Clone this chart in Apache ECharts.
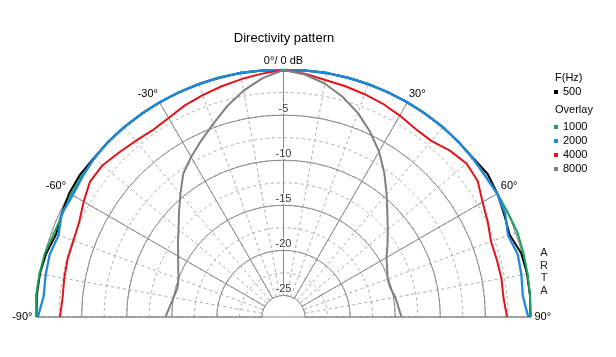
<!DOCTYPE html>
<html>
<head>
<meta charset="utf-8">
<script src="https://cdn.jsdelivr.net/npm/echarts@6/dist/echarts.min.js"></script>
<style>
html,body{margin:0;padding:0;background:#fff;}
#chart{width:616px;height:357px;}
</style>
</head>
<body>
<div id="chart"></div>
<script>
// Angles (degrees) at which each response is sampled
const angles = [-90,-85,-80,-75,-70,-65,-60,-55,-50,-45,-40,-35,-30,-25,-20,-15,-10,-5,0,5,10,15,20,25,30,35,40,45,50,55,60,65,70,75,80,85,90];
// Relative level (dB) per frequency
const f500  = [0,0.1,0.05,-0.15,-0.55,-0.25,0.05,0.15,0.05,0.1,0.1,0.1,0.1,0.1,0.1,0.1,0.1,0.05,0,0.05,0.1,0.1,0.1,0.1,0.1,0.1,0.1,0.05,0.05,0.25,0.0,-0.4,-0.7,-0.1,0.05,0.05,0];
const f1000 = [0,0.15,0.1,0,-0.3,-0.35,-0.2,-0.1,0.0,0.1,0.1,0.1,0.1,0.1,0.1,0.1,0.1,0.05,0,0.05,0.1,0.1,0.1,0.1,0.1,0.1,0.1,0.05,0,-0.05,0,0.05,0.2,0.15,0.1,0.05,0];
const f2000 = [-0.15,-0.7,-0.6,-0.55,-0.85,-0.25,-0.4,-0.2,0.0,0.1,0.1,0.1,0.1,0.1,0.1,0.1,0.1,0.05,0,0.05,0.1,0.1,0.1,0.1,0.1,0.1,0.1,0.05,0,-0.1,-0.05,-0.25,-0.9,-0.5,-0.6,-0.75,-0.25];
const f4000 = [-2.6,-2.8,-2.7,-2.6,-2.6,-2.4,-1.8,-1.2,-1.2,-1.6,-1.9,-2.1,-1.9,-1.5,-1.2,-0.9,-0.6,-0.3,0,-0.3,-0.7,-0.9,-1.1,-1.3,-1.6,-1.9,-1.9,-1.3,-0.9,-1.1,-1.9,-2.4,-2.9,-2.9,-2.85,-2.9,-2.6];
const f8000 = [-14.3,-14.7,-15.0,-15.2,-15.0,-14.5,-13.9,-13.1,-12.2,-11.0,-9.6,-8.0,-6.9,-5.8,-4.6,-3.2,-1.9,-0.8,0,-0.4,-1.1,-2.1,-3.3,-4.7,-6.2,-7.9,-9.6,-11.1,-12.3,-13.3,-14.2,-14.7,-15.1,-15.1,-14.8,-14.6,-14.3];
// Radial tick labels (dB)
const radialTicks = [-5,-10,-15,-20,-25];
const mainNames = ['500'];
const overlayNames = ['1000','2000','4000','8000'];

const FONT = 'Liberation Sans, Arial, sans-serif';
const center = [283.5, 317];
const R = [21.5, 247];
const PX_PER_DB = (R[1] - R[0]) / 25;
const HEADROOM = 0.6; // dB of room above 0 dB for the data polar
const Rdata = [R[0], R[1] + HEADROOM * PX_PER_DB];

function pairs(vals){ return vals.map((v,i)=>[v, angles[i]]); }

const seriesDefs = [
  {name:'500', vals:f500, color:'#000000', w:2},
  {name:'1000', vals:f1000, color:'#1ba35a', w:2},
  {name:'2000', vals:f2000, color:'#2186de', w:2.3},
  {name:'4000', vals:f4000, color:'#e0141a', w:2},
  {name:'8000', vals:f8000, color:'#808080', w:2}
];

const series = seriesDefs.map((s,i)=>({
  name:s.name, type:'line', coordinateSystem:'polar', polarIndex:3,
  data:pairs(s.vals), symbol:'none', clip:false, silent:true,
  lineStyle:{color:s.color, width:s.w}, itemStyle:{color:s.color}, z:5 + i
}));
series.push({
  type:'scatter', coordinateSystem:'polar', polarIndex:0, silent:true,
  data: radialTicks.map(v=>[v,0]), symbolSize:0, z:12,
  label:{show:true, position:'top', distance:1, formatter:p=>String(p.value[0]),
    color:'#000', fontSize:11, fontFamily:FONT, backgroundColor:'#fff', padding:[0,1,0,1]}
});

const titleStyle = {fontSize:11, fontWeight:'normal', color:'#000', fontFamily:FONT};
const hiddenAxis = {axisLine:{show:false}, axisTick:{show:false}, axisLabel:{show:false}, splitLine:{show:false}};
const chart = echarts.init(document.getElementById('chart'), null, {renderer:'canvas'});
chart.setOption({
  animation:false,
  backgroundColor:'#fff',
  title:[
    {text:'Directivity pattern', left:284, top:32, padding:0, textAlign:'center',
      textStyle:{fontSize:13, fontWeight:'normal', color:'#000', fontFamily:FONT}},
    {text:'F(Hz)', left:555, top:72, padding:0, textStyle:titleStyle},
    {text:'Overlay', left:555, top:104, padding:0, textStyle:titleStyle},
    {text:'A\nR\nT\nA', left:544, top:247, padding:0, textAlign:'center',
      textStyle:{fontSize:11, fontWeight:'normal', color:'#222', fontFamily:FONT, lineHeight:12.5}}
  ],
  legend:[
    {data:mainNames, orient:'vertical', left:554, top:86, padding:0, itemGap:2,
      icon:'rect', itemWidth:4, itemHeight:4, selectedMode:false,
      textStyle:{fontSize:11, color:'#000', fontFamily:FONT, lineHeight:12}},
    {data:overlayNames, orient:'vertical', left:554, top:121, padding:0, itemGap:2,
      icon:'rect', itemWidth:4, itemHeight:4, selectedMode:false,
      textStyle:{fontSize:11, color:'#000', fontFamily:FONT, lineHeight:12}}
  ],
  polar:[
    {center:center, radius:R},
    {center:center, radius:R},
    {center:center, radius:[0, R[1]]},
    {center:center, radius:Rdata}
  ],
  angleAxis:[
    {polarIndex:0, type:'value', min:-90, max:90, interval:30, startAngle:180, endAngle:0, clockwise:true, z:3,
      axisLine:{show:false},
      axisTick:{show:false},
      axisLabel:{show:true, margin:4, color:'#000', fontSize:11, fontFamily:FONT,
        formatter:v=> v===0 ? '0°/ 0 dB' : v+'°'},
      splitLine:{show:true, lineStyle:{color:'#888', width:1, type:'solid'}}},
    {polarIndex:1, type:'value', min:-90, max:90, interval:10, startAngle:180, endAngle:0, clockwise:true, z:1,
      axisLine:{show:false}, axisTick:{show:false}, axisLabel:{show:false},
      splitLine:{show:true, lineStyle:{color:'#aaa', width:1, type:[3,3]}}},
    {polarIndex:2, type:'value', min:-90, max:90, interval:180, startAngle:180, endAngle:0, clockwise:true, z:2,
      axisLine:{show:false}, axisTick:{show:false}, axisLabel:{show:false},
      splitLine:{show:true, lineStyle:{color:'#888', width:1}}},
    Object.assign({polarIndex:3, type:'value', min:-90, max:90, startAngle:180, endAngle:0, clockwise:true}, hiddenAxis)
  ],
  radiusAxis:[
    {polarIndex:0, type:'value', min:-25, max:0, interval:5, z:3,
      axisLine:{show:false}, axisTick:{show:false}, axisLabel:{show:false},
      splitLine:{show:true, lineStyle:{color:'#888', width:1}}},
    {polarIndex:1, type:'value', min:-25, max:0, interval:2.5, z:1,
      axisLine:{show:false}, axisTick:{show:false}, axisLabel:{show:false},
      splitLine:{show:true, lineStyle:{color:'#aaa', width:1, type:[3,3]}}},
    Object.assign({polarIndex:2, type:'value', min:0, max:1}, hiddenAxis),
    Object.assign({polarIndex:3, type:'value', min:-25, max:HEADROOM}, hiddenAxis)
  ],
  series:series
});
</script>
</body>
</html>
